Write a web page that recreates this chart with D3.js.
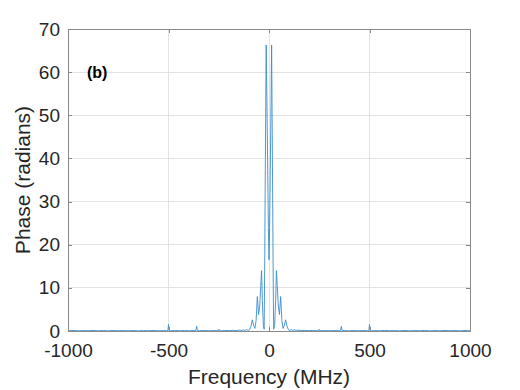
<!DOCTYPE html>
<html>
<head>
<meta charset="utf-8">
<script src="https://cdn.jsdelivr.net/npm/d3@7"></script>
<style>
  html, body { margin: 0; padding: 0; background: #ffffff; }
  svg { display: block; }
  text { font-family: "Liberation Sans", Arial, Helvetica, sans-serif; }
</style>
</head>
<body>
<svg id="chart" width="520" height="390"></svg>
<script>
// ---------- data ----------
const frequencyMHz = [
  -1000, -975, -950, -925, -900, -875, -850, -825, -800, -775, -750, -725, -700, -675, -650, -625, -600, -575, -550, -525,
  -510, -503, -500, -497, -490, -470, -445, -420, -395, -375, -364, -360, -356, -345, -320, -300, -280, -262, -252, -249, -246, -235,
  -215, -195, -175, -160, -148, -138, -128, -118, -110, -104, -97, -90, -83, -76, -70, -64, -58, -52, -46, -41, -37, -33, -28,
  -24, -21, -18, -14, -10, -6, -3, 0, 3, 6, 10, 13, 17, 20, 23,
  28, 33, 37, 41, 46, 52, 58, 64, 70, 76, 83, 90, 97, 104, 110, 118, 128, 138, 148, 160, 175, 195, 215,
  235, 246, 249, 252, 262, 280, 300, 320, 345, 356, 360, 364, 375, 395, 420, 445, 470, 490, 497, 500, 503, 510,
  525, 550, 575, 600, 625, 650, 675, 700, 725, 750, 775, 800, 825, 850, 875, 900, 925, 950, 975, 1000
];
const phaseRad = [
  0.05, 0.12, 0.04, 0.1, 0.06, 0.13, 0.05, 0.1, 0.04, 0.12, 0.06, 0.1, 0.05, 0.12, 0.04, 0.1, 0.07, 0.12, 0.05, 0.1,
  0.06, 0.15, 1.5, 0.15, 0.05, 0.12, 0.06, 0.1, 0.05, 0.12, 0.1, 1.1, 0.1, 0.06, 0.12, 0.05, 0.1, 0.08, 0.1, 0.4, 0.1, 0.06,
  0.12, 0.08, 0.15, 0.1, 0.2, 0.12, 0.25, 0.15, 0.35, 0.1, 0.3, 1.0, 2.6, 1.2, 0.6, 2.5, 8.0, 3.8, 6.0, 10.5, 14.0, 7.0, 1.2,
  0.4, 18, 40, 66.3, 52, 36, 24, 16.5, 24, 36, 52, 66.3, 40, 18, 0.4,
  1.2, 7.0, 14.0, 10.5, 6.0, 3.8, 8.0, 2.5, 0.6, 1.2, 2.6, 1.0, 0.3, 0.1, 0.35, 0.15, 0.25, 0.12, 0.2, 0.1, 0.15, 0.08, 0.12,
  0.06, 0.1, 0.4, 0.1, 0.08, 0.1, 0.05, 0.12, 0.06, 0.1, 1.1, 0.1, 0.12, 0.05, 0.1, 0.06, 0.12, 0.05, 0.15, 1.5, 0.15, 0.06,
  0.1, 0.05, 0.12, 0.07, 0.1, 0.04, 0.12, 0.05, 0.1, 0.06, 0.12, 0.04, 0.1, 0.05, 0.13, 0.06, 0.1, 0.04, 0.12, 0.05
];
const xTicks = [-1000, -500, 0, 500, 1000];
const yTicks = [0, 10, 20, 30, 40, 50, 60, 70];
const xLabel = "Frequency (MHz)";
const yLabel = "Phase (radians)";
const panelTag = "(b)";

// ---------- layout ----------
const svg = d3.select("#chart");
const L = 68, R = 470, T = 29, B = 331;
const x = d3.scaleLinear().domain([-1000, 1000]).range([L, R]);
const y = d3.scaleLinear().domain([0, 70]).range([B, T]);

const gridColor = "#e3e3e3";
const axisColor = "#8a8a8a";
const textColor = "#262626";
const plain = d => String(d);

// grid
const grid = svg.append("g");
grid.selectAll("line.vx").data(xTicks).join("line")
  .attr("x1", d => x(d)).attr("x2", d => x(d)).attr("y1", T).attr("y2", B)
  .attr("stroke", gridColor).attr("stroke-width", 1).attr("shape-rendering", "crispEdges");
grid.selectAll("line.hy").data(yTicks).join("line")
  .attr("x1", L).attr("x2", R).attr("y1", d => y(d)).attr("y2", d => y(d))
  .attr("stroke", gridColor).attr("stroke-width", 1).attr("shape-rendering", "crispEdges");

// data line
const pts = frequencyMHz.map((f, i) => [f, phaseRad[i]]);
const line = d3.line().x(d => x(d[0])).y(d => y(d[1]));
svg.append("path").datum(pts)
  .attr("d", line)
  .attr("fill", "none")
  .attr("stroke", "#3a8ccc")
  .attr("stroke-width", 0.9)
  .attr("stroke-linejoin", "round");

// axes (MATLAB style, inward ticks, boxed)
function styleAxis(g) {
  g.select(".domain").remove();
  g.selectAll(".tick line").attr("stroke", axisColor).attr("shape-rendering", "crispEdges");
  g.selectAll(".tick text").attr("fill", textColor).style("font-size", "19px")
    .style("font-family", '"Liberation Sans", Arial, sans-serif');
}
const gx = svg.append("g").attr("transform", `translate(0,${B})`)
  .call(d3.axisBottom(x).tickValues(xTicks).tickSize(-4).tickPadding(10).tickFormat(plain));
styleAxis(gx);
gx.selectAll(".tick text").attr("dy", "0.71em").attr("y", 13);

const gxt = svg.append("g").attr("transform", `translate(0,${T})`)
  .call(d3.axisTop(x).tickValues(xTicks).tickSize(-4).tickFormat(""));
styleAxis(gxt);

const gy = svg.append("g").attr("transform", `translate(${L},0)`)
  .call(d3.axisLeft(y).tickValues(yTicks).tickSize(-4).tickPadding(12).tickFormat(plain));
styleAxis(gy);
gy.selectAll(".tick text").attr("x", -8);

const gyr = svg.append("g").attr("transform", `translate(${R},0)`)
  .call(d3.axisRight(y).tickValues(yTicks).tickSize(-4).tickFormat(""));
styleAxis(gyr);

// box
svg.append("rect").attr("x", L).attr("y", T).attr("width", R - L).attr("height", B - T)
  .attr("fill", "none").attr("stroke", axisColor).attr("stroke-width", 1).attr("shape-rendering", "crispEdges");

// labels
svg.append("text").attr("x", (L + R) / 2).attr("y", 384)
  .attr("text-anchor", "middle").attr("fill", textColor)
  .style("font-size", "21px").text(xLabel);
svg.append("text").attr("transform", `translate(30,${(T + B) / 2}) rotate(-90)`)
  .attr("text-anchor", "middle").attr("fill", textColor)
  .style("font-size", "21px").text(yLabel);

// panel tag
svg.append("text").attr("x", 87).attr("y", 78)
  .attr("fill", "#000").style("font-size", "16px").style("font-weight", "bold").text(panelTag);
</script>
</body>
</html>
